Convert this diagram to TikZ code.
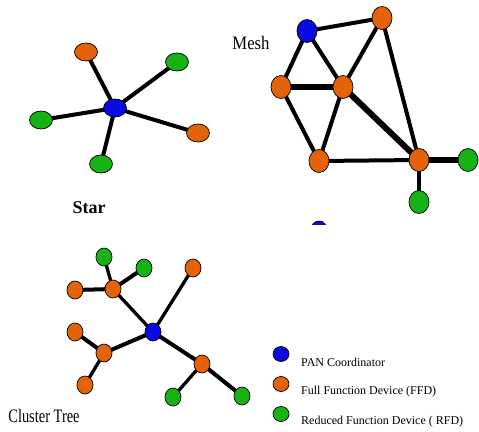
\documentclass[tikz,border=0pt]{standalone}
\usepackage{fontspec}
\setmainfont{Liberation Serif}
\usetikzlibrary{shapes.geometric,backgrounds}
\definecolor{panc}{RGB}{10,10,225}
\definecolor{ffdc}{RGB}{228,98,8}
\definecolor{rfdc}{RGB}{22,178,22}
\tikzset{
  dev/.style={ellipse, draw=black, line width=0.7pt, inner sep=0pt},
  pan/.style={dev, fill=panc},
  ffd/.style={dev, fill=ffdc},
  rfd/.style={dev, fill=rfdc},
  starsz/.style={minimum width=23pt, minimum height=18pt},
  meshsz/.style={minimum width=20pt, minimum height=23pt},
  treesz/.style={minimum width=16pt, minimum height=18pt},
  legsz/.style={minimum width=16pt, minimum height=15pt},
  link/.style={line width=4pt, black},
  thicklink/.style={line width=6pt, black},
  thinlink/.style={line width=3.3pt, black},
  title/.style={inner sep=0pt, font=\fontsize{18}{20}\selectfont},
  legtext/.style={anchor=west, inner sep=0pt, font=\fontsize{12}{14}\selectfont}
}
\begin{document}
\begin{tikzpicture}[x=1pt,y=-1pt]
\begin{scope}[on background layer]
\fill[white] (0,0) rectangle (479,431);
\end{scope}
\useasboundingbox (0,0) rectangle (479,431);

% ---------- Star ----------
\node[pan, starsz] (sc) at (115,108) {};
\node[ffd, starsz] (s1) at (86,52) {};
\node[rfd, starsz] (s2) at (177,62) {};
\node[rfd, starsz] (s3) at (41,120) {};
\node[ffd, starsz] (s4) at (198,133) {};
\node[rfd, starsz] (s5) at (101,164) {};
\node[title, font=\fontsize{18}{20}\selectfont\bfseries] (startitle) at (89,208) {Star};
\begin{scope}[on background layer]
  \draw[link] (sc.center) -- (s1.center);
  \draw[link] (sc.center) -- (s2.center);
  \draw[link] (sc.center) -- (s3.center);
  \draw[link] (sc.center) -- (s4.center);
  \draw[link] (sc.center) -- (s5.center);
\end{scope}

% ---------- Mesh ----------
\node[pan, meshsz] (mb) at (307,31) {};
\node[ffd, meshsz] (mt) at (382,18) {};
\node[ffd, meshsz] (ml) at (281,87) {};
\node[ffd, meshsz] (mm) at (343,87) {};
\node[ffd, meshsz] (mo) at (319,161) {};
\node[ffd, meshsz] (mr) at (419,160) {};
\node[rfd, meshsz] (mg1) at (468,160) {};
\node[rfd, meshsz] (mg2) at (419,202) {};
\node[title, font=\fontsize{19}{21}\selectfont] (meshtitle) at (251,43) {\scalebox{0.88}[1]{Mesh}};
\begin{scope}
  \clip (300,210) rectangle (340,224);
  \node[pan, minimum width=17pt, minimum height=20pt] (mclip) at (319,231) {};
\end{scope}
\begin{scope}[on background layer]
  \draw[link] (mb.center) -- (mt.center);
  \draw[link] (mb.center) -- (ml.center);
  \draw[link] (mb.center) -- (mm.center);
  \draw[thicklink] (ml.center) -- (mm.center);
  \draw[link] (ml.center) -- (mo.center);
  \draw[link] (mm.center) -- (mo.center);
  \draw[link] (mm.center) -- (mt.center);
  \draw[link] (mt.center) -- (mr.center);
  \draw[thicklink] (mm.center) -- (mr.center);
  \draw[link] (mo.center) -- (mr.center);
  \draw[thicklink] (mr.center) -- (mg1.center);
  \draw[link] (mr.center) -- (mg2.center);
\end{scope}

% ---------- Cluster Tree ----------
\node[pan, treesz] (tc) at (153,332) {};
\node[ffd, treesz] (th1) at (113,289) {};
\node[rfd, treesz] (t11) at (104,257) {};
\node[rfd, treesz] (t12) at (144,268) {};
\node[ffd, treesz] (t13) at (75,290) {};
\node[ffd, treesz] (t2) at (193,268) {};
\node[ffd, treesz] (th3) at (104,353) {};
\node[ffd, treesz] (t31) at (75,332) {};
\node[ffd, treesz] (t32) at (85,385) {};
\node[ffd, treesz] (th4) at (202,364) {};
\node[rfd, treesz] (t41) at (173,397) {};
\node[rfd, treesz] (t42) at (242,396) {};
\node[title, font=\fontsize{19}{21}\selectfont] (treetitle) at (44,416) {\scalebox{0.76}[1]{Cluster Tree}};
\begin{scope}[on background layer]
  \draw[thinlink] (tc.center) -- (th1.center);
  \draw[thinlink] (th1.center) -- (t11.center);
  \draw[link] (th1.center) -- (t12.center);
  \draw[link] (th1.center) -- (t13.center);
  \draw[thinlink] (tc.center) -- (t2.center);
  \draw[link] (tc.center) -- (th3.center);
  \draw[link] (th3.center) -- (t31.center);
  \draw[thinlink] (th3.center) -- (t32.center);
  \draw[link] (tc.center) -- (th4.center);
  \draw[thinlink] (th4.center) -- (t41.center);
  \draw[link] (th4.center) -- (t42.center);
\end{scope}

% ---------- Legend ----------
\node[pan, legsz] (lp) at (281,354) {};
\node[ffd, legsz] (lf) at (281,384) {};
\node[rfd, legsz] (lr) at (281,414) {};
\node[legtext] (lpt) at (301,362) {PAN Coordinator};
\node[legtext] (lft) at (301,392) {Full Function Device (FFD)};
\node[legtext] (lrt) at (301,422) {Reduced Function Device ( RFD)};
\end{tikzpicture}
\end{document}
